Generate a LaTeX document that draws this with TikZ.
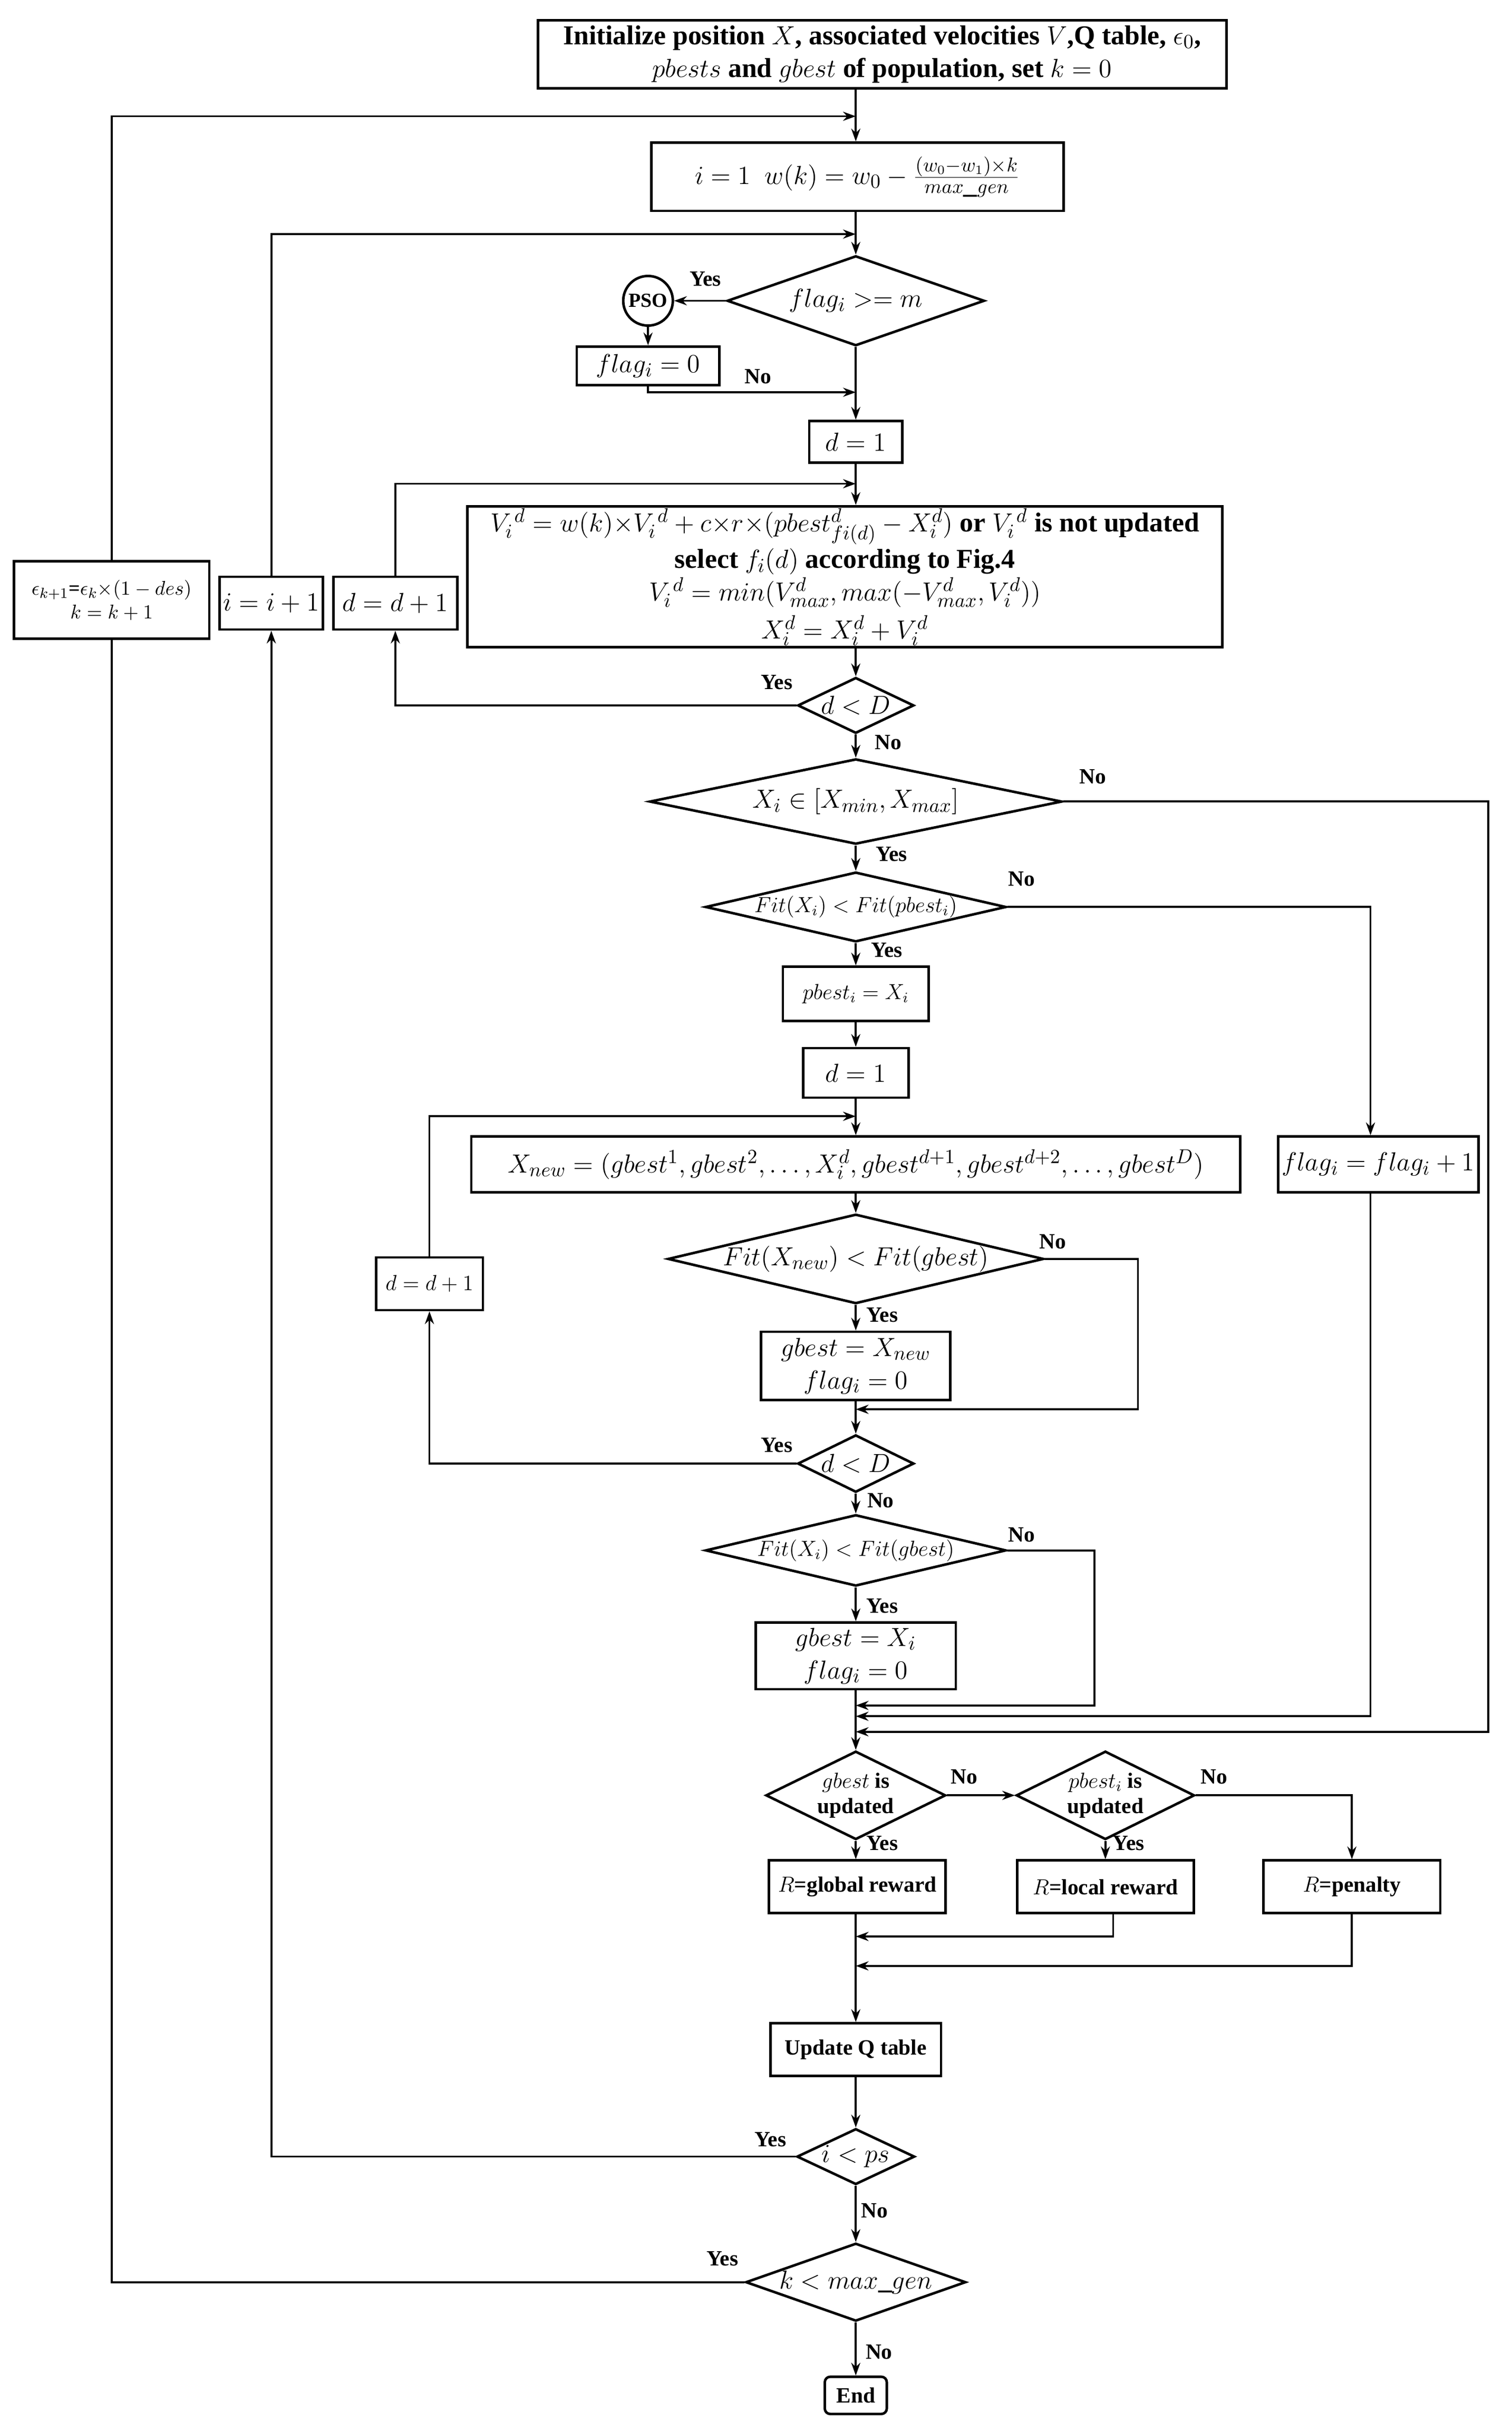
\documentclass[tikz,border=0pt]{standalone}
\usepackage{fontspec}
\setmainfont{Liberation Serif}
\usetikzlibrary{shapes.geometric,arrows.meta}
\begin{document}
\begin{tikzpicture}[x=0.03cm,y=-0.03cm,
 every node/.style={font=\bfseries\fontsize{15}{18}\selectfont},
 box/.style={draw,line width=1.4pt,inner sep=2pt,align=center},
 dia/.style={draw,diamond,line width=1.4pt,inner sep=0pt,align=center},
 lab/.style={font=\bfseries\fontsize{12}{14}\selectfont},
 sm/.style={font=\bfseries\fontsize{12}{14}\selectfont},
 arr/.style={line width=1.1pt,-{Stealth[length=7pt,width=5pt]}},
 ln/.style={line width=1.1pt}]
\useasboundingbox (0,0) rectangle (975,1568);
% nodes
\node[box,minimum width=13.32cm,minimum height=1.32cm] (init) at (569,35) {Initialize position $X$, associated velocities $V$,Q table, $\epsilon_0$,\\ $pbests$ and $gbest$ of population, set $k=0$};
\node[box,minimum width=7.98cm,minimum height=1.32cm] (i1) at (553,114) {$i=1\ \ w(k)=w_0-\frac{(w_0-w_1)\times k}{max\_gen}$};
\node[dia,shape aspect=2.9,minimum width=4.98cm,minimum height=1.74cm] (fm) at (552,194) {$flag_i >= m$};
\node[draw,circle,line width=1.4pt,minimum size=0.96cm,inner sep=0pt,font=\bfseries\fontsize{11}{12}\selectfont] (pso) at (418,194) {PSO};
\node[box,minimum width=2.76cm,minimum height=0.75cm] (f0) at (418,236) {$flag_i=0$};
\node[box,minimum width=1.8cm,minimum height=0.81cm] (d1) at (552,285) {$d=1$};
\node[box,minimum width=14.61cm,minimum height=2.73cm,inner sep=0pt] (vb) at (545,372) {$V_i^{\,d}=w(k){\times}V_i^{\,d}+c{\times}r{\times}(pbest^d_{fi(d)}-X_i^d)$ or $V_i^{\,d}$ is not updated\\[1pt] select $f_i(d)$ according to Fig.4\\[0pt] $V_i^{\,d}=min(V^d_{max},max(-V^d_{max},V_i^d))$\\[3pt] $X_i^d=X_i^d+V_i^d$};
\node[dia,shape aspect=2.1,minimum width=2.25cm,minimum height=1.08cm] (dD1) at (552,455) {$d<D$};
\node[box,minimum width=3.78cm,minimum height=1.5cm,font=\bfseries\fontsize{11}{13}\selectfont] (eps) at (72,387) {$\epsilon_{k+1}$=$\epsilon_k$$\times(1-des)$\\ $k=k+1$};
\node[box,minimum width=1.98cm,minimum height=1.02cm] (ii) at (175,389) {$i=i+1$};
\node[box,minimum width=2.4cm,minimum height=1.02cm] (dd) at (255,389) {$d=d+1$};
\node[dia,shape aspect=4.8,minimum width=7.98cm,minimum height=1.65cm] (xr) at (552,517) {$X_i\in[X_{min},X_{max}]$};
\node[dia,shape aspect=4.3,minimum width=5.82cm,minimum height=1.35cm,sm] (fp) at (552,585) {$Fit(X_i)<Fit(pbest_i)$};
\node[box,minimum width=2.82cm,minimum height=1.05cm,sm] (pb) at (552,641) {$pbest_i=X_i$};
\node[box,minimum width=2.04cm,minimum height=0.96cm] (d2) at (552,692) {$d=1$};
\node[box,minimum width=14.88cm,minimum height=1.08cm] (xn) at (552,751) {$X_{new}=(gbest^1,gbest^2,\ldots,X_i^d,gbest^{d+1},gbest^{d+2},\ldots,gbest^D)$};
\node[box,minimum width=3.84cm,minimum height=1.08cm] (fl) at (889,751) {$flag_i=flag_i+1$};
\node[dia,shape aspect=4.2,minimum width=7.02cm,minimum height=1.68cm] (fn) at (552,812) {$Fit(X_{new})<Fit(gbest)$};
\node[box,minimum width=3.66cm,minimum height=1.32cm] (gn) at (552,881) {$gbest=X_{new}$\\ $flag_i=0$};
\node[box,minimum width=2.07cm,minimum height=1.02cm,sm] (dd2) at (277,828) {$d=d+1$};
\node[dia,shape aspect=2.0,minimum width=2.25cm,minimum height=1.11cm] (dD2) at (552,944) {$d<D$};
\node[dia,shape aspect=4.2,minimum width=5.82cm,minimum height=1.38cm,sm] (fg) at (552,1000) {$Fit(X_i)<Fit(gbest)$};
\node[box,minimum width=3.87cm,minimum height=1.29cm] (gx) at (552,1068) {$gbest=X_i$\\ $flag_i=0$};
\node[dia,shape aspect=2,minimum width=3.48cm,minimum height=1.71cm,sm] (gu) at (552,1158) {$gbest$ is\\ updated};
\node[dia,shape aspect=2,minimum width=3.45cm,minimum height=1.71cm,sm] (pu) at (713,1158) {$pbest_i$ is\\ updated};
\node[box,minimum width=3.42cm,minimum height=1.02cm,sm] (rg) at (553,1217) {$R$=global reward};
\node[box,minimum width=3.42cm,minimum height=1.02cm,sm] (rl) at (713,1217) {$R$=local reward};
\node[box,minimum width=3.42cm,minimum height=1.02cm,sm] (rp) at (872,1217) {$R$=penalty};
\node[box,minimum width=3.3cm,minimum height=1.02cm,sm] (uq) at (552,1322) {Update Q table};
\node[dia,shape aspect=2.1,minimum width=2.28cm,minimum height=1.08cm] (ip) at (552,1391) {$i<ps$};
\node[dia,shape aspect=2.8,minimum width=4.26cm,minimum height=1.5cm] (km) at (552,1472) {$k<max\_gen$};
\node[box,rounded corners=3pt,minimum width=1.2cm,minimum height=0.72cm,sm] (end) at (552,1545) {End};
% coordinates
\coordinate (ck) at (552,75);
\coordinate (ci) at (552,151);
\coordinate (cn) at (552,253);
\coordinate (cd) at (552,312);
\coordinate (cd2) at (552,720);
\coordinate (m1) at (552,909);
\coordinate (m2) at (552,1100);
\coordinate (m3) at (552,1107);
\coordinate (m4) at (552,1117);
\coordinate (m5) at (552,1249);
\coordinate (m6) at (552,1268);
% connectors
\draw[ln] (init.south -| ck) -- (ck);
\draw[arr] (eps.north) |- (ck);
\draw[arr] (ck) -- (i1.north -| ck);
\draw[ln] (i1.south -| ck) -- (ci);
\draw[arr] (ii.north) |- (ci);
\draw[arr] (ci) -- (fm.north);
\draw[arr] (fm.west) -- (pso.east);
\draw[arr] (pso.south) -- (f0.north);
\draw[arr] (f0.south) |- (cn);
\draw[arr] (fm.south) -- (d1.north);
\draw[ln] (d1.south) -- (cd);
\draw[arr] (dd.north) |- (cd);
\draw[arr] (cd) -- (vb.north -| cd);
\draw[arr] (vb.south -| dD1) -- (dD1.north);
\draw[arr] (dD1.west) -| (dd.south);
\draw[arr] (dD1.south) -- (xr.north);
\draw[arr] (xr.south) -- (fp.north);
\draw[arr] (xr.east) -| (960,1117) -- (m4);
\draw[arr] (fp.south) -- (pb.north);
\draw[arr] (fp.east) -| (fl.north -| 884,0);
\draw[arr] (fl.south -| 884,0) |- (m3);
\draw[arr] (pb.south) -- (d2.north);
\draw[ln] (d2.south) -- (cd2);
\draw[arr] (dd2.north) |- (cd2);
\draw[arr] (cd2) -- (xn.north);
\draw[arr] (xn.south) -- (fn.north);
\draw[arr] (fn.south) -- (gn.north);
\draw[arr] (fn.east) -| (734,909) -- (m1);
\draw[arr] (gn.south) -- (dD2.north);
\draw[arr] (dD2.west) -| (dd2.south);
\draw[arr] (dD2.south) -- (fg.north);
\draw[arr] (fg.south) -- (gx.north);
\draw[arr] (fg.east) -| (706,1100) -- (m2);
\draw[arr] (gx.south) -- (gu.north);
\draw[arr] (gu.east) -- (pu.west);
\draw[arr] (gu.south) -- (rg.north -| gu);
\draw[arr] (pu.south) -- (rl.north);
\draw[arr] (pu.east) -| (rp.north);
\draw[arr] (rl.south -| 718,0) |- (m5);
\draw[arr] (rp.south) |- (m6);
\draw[arr] (rg.south -| uq) -- (uq.north);
\draw[arr] (uq.south) -- (ip.north);
\draw[arr] (ip.west) -| (ii.south);
\draw[arr] (ip.south) -- (km.north);
\draw[ln] (km.west) -| (eps.south);
\draw[arr] (km.south) -- (end.north);
% labels
\node[lab] at (455,180) {Yes};
\node[lab] at (489,243) {No};
\node[lab] at (501,440) {Yes};
\node[lab] at (573,479) {No};
\node[lab] at (705,501) {No};
\node[lab] at (575,551) {Yes};
\node[lab] at (659,567) {No};
\node[lab] at (572,613) {Yes};
\node[lab] at (679,801) {No};
\node[lab] at (569,848) {Yes};
\node[lab] at (501,932) {Yes};
\node[lab] at (568,968) {No};
\node[lab] at (659,990) {No};
\node[lab] at (569,1036) {Yes};
\node[lab] at (622,1146) {No};
\node[lab] at (783,1146) {No};
\node[lab] at (569,1189) {Yes};
\node[lab] at (728,1189) {Yes};
\node[lab] at (497,1380) {Yes};
\node[lab] at (564,1426) {No};
\node[lab] at (466,1457) {Yes};
\node[lab] at (567,1517) {No};
\end{tikzpicture}
\end{document}
